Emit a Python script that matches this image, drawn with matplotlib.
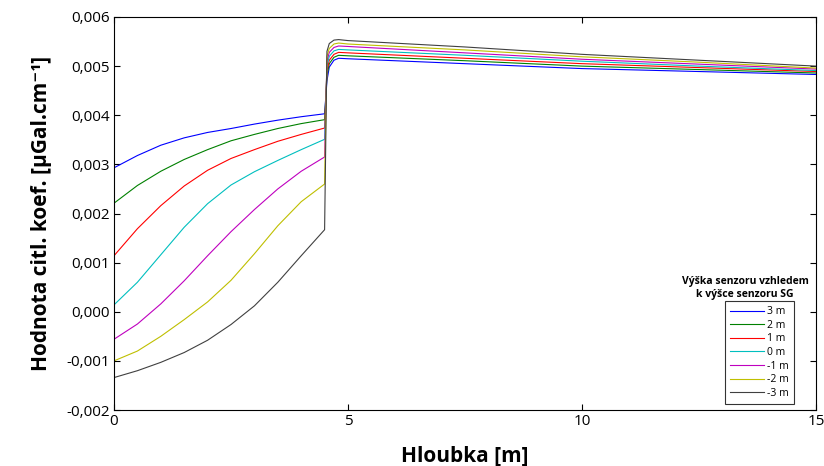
import matplotlib
matplotlib.use("Agg")
import matplotlib.pyplot as plt
from matplotlib.ticker import FuncFormatter, FixedLocator

plt.rcParams['font.family'] = ['Open Sans', 'DejaVu Sans']

labels = ['3 m', '2 m', '1 m', '0 m', '-1 m', '-2 m', '-3 m']
colors = ['#0000ff', '#008000', '#ff0000', '#00bfbf', '#bf00bf', '#bfbf00', '#404040']

# depth grid before the boundary (m)
x_pre = [0.0, 0.5, 1.0, 1.5, 2.0, 2.5, 3.0, 3.5, 4.0, 4.5]
# depth grid after the boundary (m)
x_post = [4.5, 4.55, 4.6, 4.7, 4.8, 5.0, 7.5, 10.0, 12.5, 15.0]

pre_vals = [
    [0.00293, 0.00318, 0.00339, 0.00354, 0.00365, 0.00373, 0.00382, 0.00390, 0.00397, 0.00403],
    [0.00221, 0.00257, 0.00286, 0.00310, 0.00330, 0.00348, 0.00361, 0.00373, 0.00383, 0.00391],
    [0.00114, 0.00169, 0.00216, 0.00256, 0.00288, 0.00312, 0.00330, 0.00347, 0.00361, 0.00374],
    [0.00014, 0.00060, 0.00116, 0.00172, 0.00220, 0.00258, 0.00285, 0.00308, 0.00330, 0.00351],
    [-0.00056, -0.00025, 0.00016, 0.00063, 0.00114, 0.00163, 0.00208, 0.00250, 0.00286, 0.00315],
    [-0.00100, -0.00080, -0.00050, -0.00016, 0.00020, 0.00064, 0.00118, 0.00175, 0.00224, 0.00260],
    [-0.00134, -0.00120, -0.00103, -0.00083, -0.00058, -0.00026, 0.00012, 0.00060, 0.00114, 0.00167],
]

post_vals = [
    [0.00403, 0.00470, 0.00498, 0.00512, 0.00516, 0.00515, 0.00505, 0.00495, 0.00489, 0.00483],
    [0.00391, 0.00480, 0.00505, 0.00518, 0.00522, 0.00521, 0.00511, 0.00500, 0.00493, 0.00486],
    [0.00374, 0.00490, 0.00512, 0.00524, 0.00528, 0.00527, 0.00516, 0.00505, 0.00497, 0.00489],
    [0.00351, 0.00500, 0.00520, 0.00531, 0.00534, 0.00533, 0.00522, 0.00510, 0.00500, 0.00491],
    [0.00315, 0.00510, 0.00528, 0.00538, 0.00541, 0.00540, 0.00527, 0.00514, 0.00504, 0.00494],
    [0.00260, 0.00520, 0.00536, 0.00545, 0.00547, 0.00545, 0.00533, 0.00519, 0.00508, 0.00496],
    [0.00167, 0.00530, 0.00546, 0.00553, 0.00554, 0.00552, 0.00539, 0.00524, 0.00512, 0.00500],
]

fig = plt.figure(figsize=(8.24, 4.66), dpi=100)
ax = fig.add_axes([114/824, 1-410/466, (816-114)/824, (410-17)/466])

handles = []
for lab, col, pv, qv in zip(labels, colors, pre_vals, post_vals):
    xs = x_pre + x_post[1:]
    ys = pv + qv[1:]
    h, = ax.plot(xs, ys, color=col, lw=0.8, label=lab)
    handles.append(h)

ax.set_xlim(0, 15)
ax.set_ylim(-0.002, 0.006)
ax.xaxis.set_major_locator(FixedLocator([0, 5, 10, 15]))
ax.yaxis.set_major_locator(FixedLocator([-0.002, -0.001, 0, 0.001, 0.002, 0.003, 0.004, 0.005, 0.006]))
ax.yaxis.set_major_formatter(FuncFormatter(lambda v, p: f"{v:.3f}".replace('.', ',').replace('-0,000', '0,000')))
ax.tick_params(direction='in', top=True, right=True, length=4, width=0.8, labelsize=11, pad=3)
for s in ax.spines.values():
    s.set_linewidth(0.8)

ax.set_xlabel('Hloubka [m]', fontsize=15, fontweight='bold', labelpad=12)
ax.set_ylabel('Hodnota citl. koef. [μGal.cm⁻¹]', fontsize=15, fontweight='bold', labelpad=10)

leg = ax.legend(handles=handles, loc='lower left', bbox_to_anchor=(725/824, 1-404/466),
                bbox_transform=fig.transFigure, fontsize=7.5, frameon=True, fancybox=False,
                edgecolor='black', borderaxespad=0, borderpad=0.5, labelspacing=0.25,
                handlelength=3.2, handletextpad=0.3)
leg.get_frame().set_linewidth(0.8)

fig.text(745/824, 1-288/466, 'Výška senzoru vzhledem\nk výšce senzoru SG', ha='center', va='center',
         fontsize=7.5, fontweight='bold', linespacing=1.3)

fig.savefig('out.png', dpi=100)
